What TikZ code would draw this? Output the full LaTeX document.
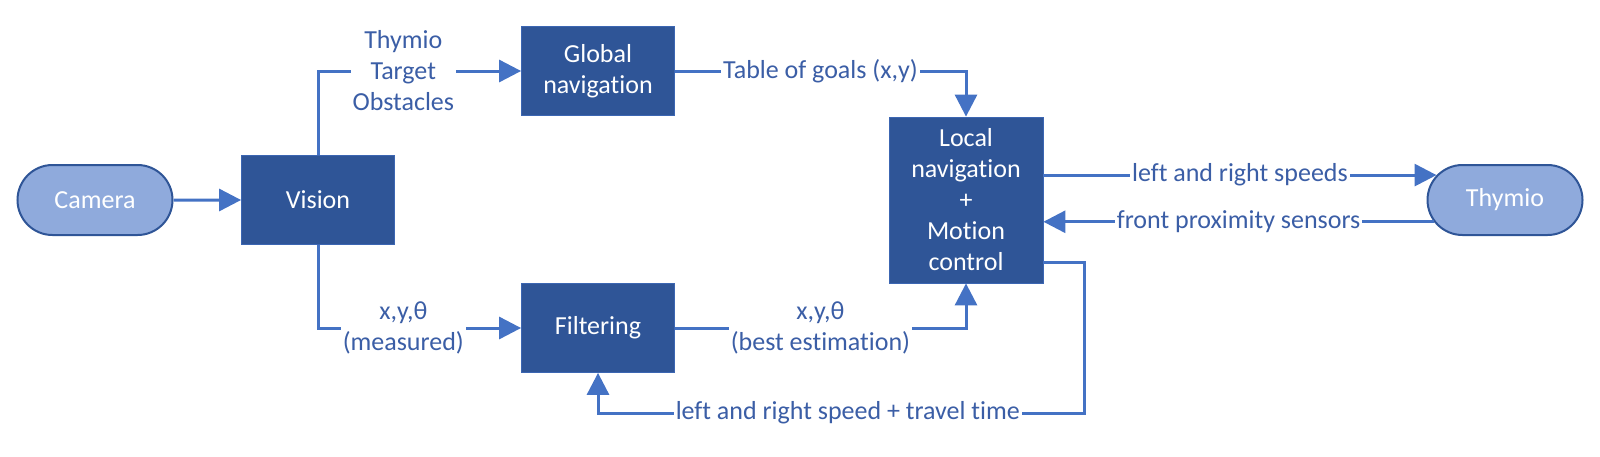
\documentclass[tikz,border=0pt]{standalone}
\usepackage{fontspec}
\setmainfont{Carlito}[Ligatures=NoCommon]
\usetikzlibrary{arrows.meta,shapes.misc}
\definecolor{boxblue}{HTML}{2F5597}
\definecolor{pillblue}{HTML}{8FAADC}
\definecolor{lineblue}{HTML}{4472C4}
\definecolor{textblue}{HTML}{3B5EA6}

\begin{document}
\begin{tikzpicture}[x=0.5pt,y=-0.5pt,
    font=\fontsize{13}{15.5}\selectfont,
    block/.style={rectangle, fill=boxblue, draw=lineblue!60!boxblue, line width=0.4pt, text=white, align=center, minimum width=76.5pt, minimum height=44.5pt, inner sep=0pt},
    pill/.style={rounded rectangle, fill=pillblue, draw=boxblue, line width=1pt, text=white, minimum width=77.5pt, minimum height=35pt, inner sep=0pt},
    link/.style={draw=lineblue, line width=1.5pt, -{Triangle[length=11pt,width=11pt]}},
    lbl/.style={fill=white, text=textblue, align=center, inner sep=1pt}]
  \useasboundingbox (0,0) rectangle (1600,456);
  \node[pill] (camera) at (95,200) {Camera};
  \node[block] (vision) at (318,200) {Vision};
  \node[block] (global) at (598,71) {Global\\navigation};
  \node[block] (filter) at (598,328) {Filtering};
  \node[block, minimum width=77pt, minimum height=83pt] (local) at (966,200) {Local\\navigation\\+\\Motion\\control};
  \node[pill] (thymio) at (1505,200) {Thymio};
  \coordinate (back) at (1084,413);

  \draw[link] (camera) -- (vision);
  \draw[link] (vision.north) |- (global.west) node[lbl, pos=0.71] {Thymio\\Target\\Obstacles};
  \draw[link] (global.east) -| (local.north) node[lbl, pos=0.25] {Table of goals (x,y)};
  \draw[link] (vision.south) |- (filter.west) node[lbl, pos=0.71] {x,y,θ\\(measured)};
  \draw[link] (filter.east) -| (local.south) node[lbl, pos=0.25] {x,y,θ\\(best estimation)};
  \draw[link] (thymio.160 -| local.east) -- (thymio.160) node[lbl, midway] {left and right speeds};
  \draw[link] (thymio.197) -- (thymio.197 -| local.east) node[lbl, midway] {front proximity sensors};
  \draw[link] ([yshift=10.5pt]local.south east) -| (back) -| (filter.south) node[lbl, pos=0.243] {left and right speed + travel time};
\end{tikzpicture}
\end{document}
